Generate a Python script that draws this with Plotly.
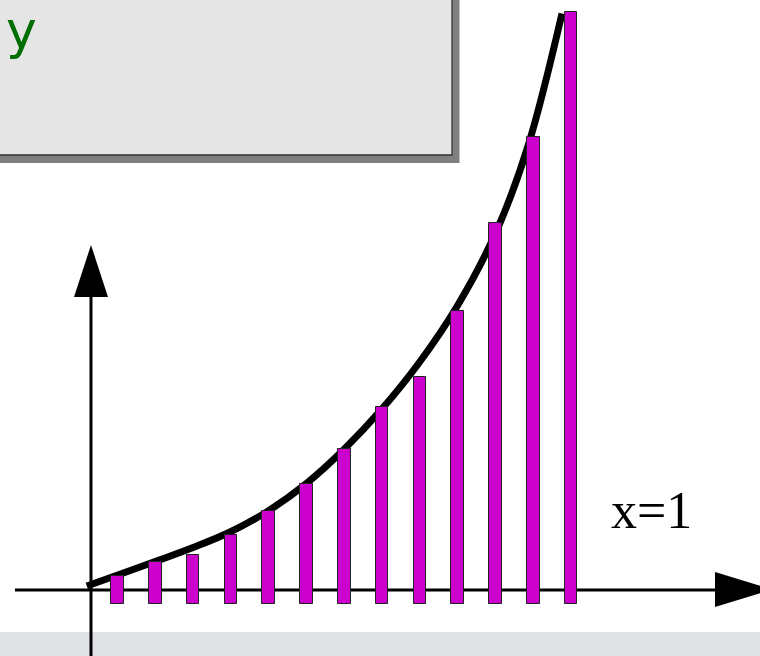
import plotly.graph_objects as go

# Bar positions (in units of bar spacing, origin at the y axis) and bar tops
bar_x = [0.7, 1.7, 2.7, 3.7, 4.7, 5.7, 6.7, 7.7, 8.7, 9.7, 10.7, 11.7, 12.7]
bar_top = [1.43, 2.77, 3.47, 5.47, 7.9, 10.6, 14.07, 18.33, 21.33, 27.9, 36.67, 45.33, 57.8]
bar_base = -1.4

# Points along the smooth curve
curve_x = [-0.11, 0.69, 1.75, 2.70, 3.68, 4.68, 5.69, 6.69, 7.70, 8.70, 9.71,
           10.71, 11.56, 12.46]
curve_y = [0.40, 1.48, 2.92, 4.25, 5.80, 7.89, 10.63, 14.05, 18.12, 22.83, 28.53,
           35.75, 44.39, 57.65]

W, H = 760, 656
X0, Y0 = 91, 590        # pixel position of the origin
SX, SY = 37.8, 10.0     # pixels per data unit

def dx(px):
    return (px - X0) / SX

def dy(py):
    return (Y0 - py) / SY

def px_(x):
    return x / W

def py_(y):
    return 1 - y / H

fig = go.Figure()

fig.add_trace(go.Scatter(
    x=curve_x,
    y=curve_y,
    mode="lines",
    line=dict(color="black", width=7, shape="spline", smoothing=1.0),
    showlegend=False,
    hoverinfo="skip",
))

# bars live on an overlaying pair of axes so they are painted over the curve
fig.add_trace(go.Bar(
    x=bar_x,
    y=[t - bar_base for t in bar_top],
    base=bar_base,
    width=0.33,
    marker=dict(color="#cc00cc", line=dict(color="#222222", width=1)),
    showlegend=False,
    hoverinfo="skip",
    xaxis="x2", yaxis="y2",
))

shapes = []
# light band along the bottom
shapes.append(dict(type="rect", xref="paper", yref="paper",
                   x0=0, x1=1, y0=py_(H + 5), y1=py_(632),
                   fillcolor="#e0e1e4", line=dict(width=0), layer="below"))
# axes
shapes.append(dict(type="line", xref="x", yref="y",
                   x0=dx(15), x1=dx(720), y0=0, y1=0,
                   line=dict(color="black", width=3), layer="below"))
shapes.append(dict(type="line", xref="x", yref="y",
                   x0=0, x1=0, y0=dy(H + 5), y1=dy(295),
                   line=dict(color="black", width=3), layer="below"))
# arrow heads
shapes.append(dict(type="path", xref="x", yref="y",
                   path=f"M {dx(715)},{dy(572)} L {dx(772)},{dy(589.5)} L {dx(715)},{dy(607)} Z",
                   fillcolor="black", line=dict(width=0), layer="above"))
shapes.append(dict(type="path", xref="x", yref="y",
                   path=f"M {dx(74)},{dy(297)} L {dx(91)},{dy(245)} L {dx(108)},{dy(297)} Z",
                   fillcolor="black", line=dict(width=0), layer="above"))
# title box with drop shadow
shapes.append(dict(type="rect", xref="paper", yref="paper",
                   x0=px_(-20), x1=px_(459.5), y0=py_(163), y1=py_(-20),
                   fillcolor="#808080", line=dict(width=0), layer="above"))
shapes.append(dict(type="rect", xref="paper", yref="paper",
                   x0=px_(-20), x1=px_(452), y0=py_(155), y1=py_(-20),
                   fillcolor="#e5e5e5", line=dict(color="#333333", width=1.3), layer="above"))

annotations = [
    dict(text="y", xref="paper", yref="paper", x=px_(4), y=py_(62),
         xanchor="left", yanchor="bottom", showarrow=False,
         font=dict(family="DejaVu Sans", size=52, color="#006e00")),
    dict(text="x=1", xref="paper", yref="paper", x=px_(609), y=py_(541),
         xanchor="left", yanchor="bottom", showarrow=False,
         font=dict(family="Liberation Serif", size=52, color="black")),
]

hidden = dict(showgrid=False, zeroline=False, showticklabels=False,
              ticks="", showline=False, fixedrange=True)

fig.update_layout(
    width=W, height=H,
    margin=dict(l=0, r=0, t=0, b=0),
    paper_bgcolor="white", plot_bgcolor="white",
    shapes=shapes, annotations=annotations,
    xaxis=dict(range=[dx(0), dx(W)], **hidden),
    yaxis=dict(range=[dy(H), dy(0)], **hidden),
    xaxis2=dict(range=[dx(0), dx(W)], overlaying="x", **hidden),
    yaxis2=dict(range=[dy(H), dy(0)], overlaying="y", **hidden),
    bargap=0,
)

fig.write_html("out.html")
